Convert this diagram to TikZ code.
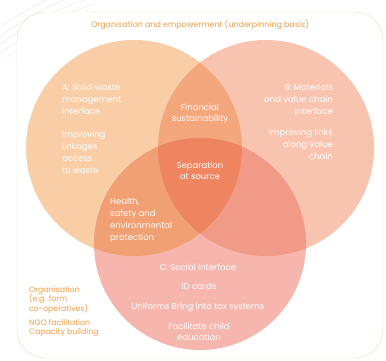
\documentclass[tikz,border=0pt]{standalone}
\usepackage{fontspec}
\setmainfont{Poppins}
\definecolor{circA}{HTML}{F9CEA6}
\definecolor{circB}{HTML}{F8C4AF}
\definecolor{circC}{HTML}{F6B6AD}
\definecolor{overAB}{HTML}{F4A77D}
\definecolor{overAC}{HTML}{F1A073}
\definecolor{overBC}{HTML}{F29A88}
\definecolor{overABC}{HTML}{EE8560}
\definecolor{basisOrange}{HTML}{ECA04A}
\definecolor{frameLine}{HTML}{F5D8B0}
\definecolor{swirlGray}{HTML}{E3E7EE}
\begin{document}
\begin{tikzpicture}[x=1pt,y=-1pt,
    whitetxt/.style={text=white, inner sep=0pt, font=\fontsize{8.5}{12}\selectfont},
    basistxt/.style={text=basisOrange, inner sep=0pt, font=\fontsize{7.8}{9.5}\selectfont}]
    \useasboundingbox (0,0) rectangle (386,361);
    \coordinate (ACentre) at (134,148);
    \coordinate (BCentre) at (266,148);
    \coordinate (CCentre) at (200,244);
    \coordinate (SwirlCentre) at (177,277);
    % faint swirl lines in the corner
    \begin{scope}
      \clip (0,0) rectangle (95,60);
      \foreach \r in {250,257,...,306}
        \draw [swirlGray, thin] (SwirlCentre) circle (\r pt);
    \end{scope}
    \draw [frameLine, fill=white, rounded corners=28pt] (17,12) rectangle (383,358);% Draw frame
    \fill [circA] (ACentre) circle (108pt);
    \fill [circB] (BCentre) circle (108pt);
    \fill [circC] (CCentre) circle (106pt);
    \begin{scope}
      \clip (ACentre) circle (108pt);
      \fill [overAB] (BCentre) circle (108pt);
      \fill [overAC] (CCentre) circle (106pt);
    \end{scope}
    \begin{scope}
      \clip (BCentre) circle (108pt);
      \fill [overBC] (CCentre) circle (106pt);
      \clip (ACentre) circle (108pt);
      \fill [overABC] (CCentre) circle (106pt);
    \end{scope}
    \node [basistxt, font=\fontsize{8}{9.5}\selectfont] (basis) at (200,25) {Organisation and empowerment (underpinning basis)};
    \node [whitetxt, align=left, anchor=north west] (aTitle) at (62,84) {A: Solid waste\\management\\interface};
    \node [whitetxt, align=left, anchor=north west] (aLinks) at (62,131) {Improving\\linkages\\access\\to waste};
    \node [whitetxt, align=right, anchor=north east] (bTitle) at (333,84) {B: Materials\\and value chain\\interface};
    \node [whitetxt, align=right, anchor=north east] (bLinks) at (333,129) {Improving links\\along value\\chain};
    \node [whitetxt, align=center, font=\fontsize{8.5}{11}\selectfont] (finance) at (200,113.5) {Financial\\sustainability};
    \node [whitetxt, align=center, font=\fontsize{8.5}{11}\selectfont] (separation) at (200,171) {Separation\\at source};
    \node [whitetxt, align=left, anchor=north west] (health) at (110,198) {Health,\\safety and\\environmental\\protection};
    \node [whitetxt] (cTitle) at (198,267) {C: Social interface};
    \node [whitetxt] (idCards) at (199,286) {ID cards};
    \node [whitetxt] (uniforms) at (198,307) {Uniforms Bring into tax systems};
    \node [whitetxt, align=center, font=\fontsize{8.5}{10.5}\selectfont] (education) at (199,332) {Facilitate child\\education};
    \node [basistxt, align=left, anchor=north west] (organise) at (29,286) {Organisation\\(e.g. form\\co-operatives)};
    \node [basistxt, align=left, anchor=north west] (ngo) at (29,319) {NGO facilitation\\Capacity building};
  \end{tikzpicture}
\end{document}
